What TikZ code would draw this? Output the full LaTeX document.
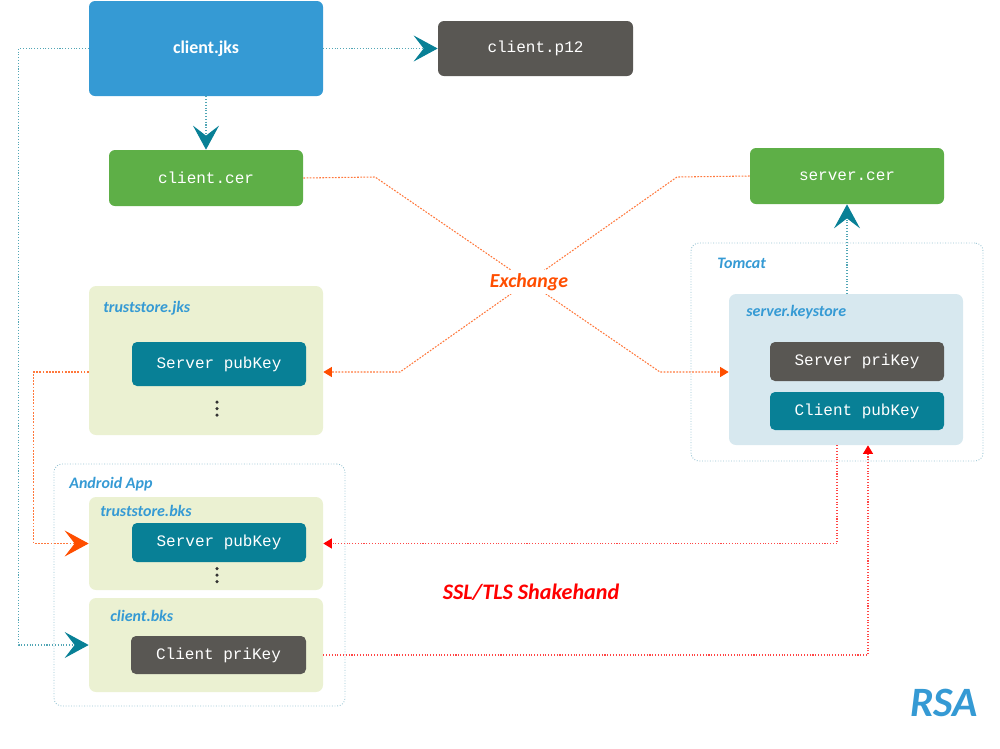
\documentclass[tikz,border=0pt]{standalone}
\usepackage{fontspec}
\setmainfont{Carlito}
\newfontfamily\monofont{Liberation Mono}
\usetikzlibrary{arrows.meta}
\definecolor{jksblue}{RGB}{53,154,212}
\definecolor{keygray}{RGB}{89,87,83}
\definecolor{keyteal}{RGB}{8,128,150}
\definecolor{cergreen}{RGB}{94,175,71}
\definecolor{storegreen}{RGB}{235,241,210}
\definecolor{storeblue}{RGB}{215,232,239}
\definecolor{framecol}{RGB}{150,195,210}
\definecolor{xorange}{RGB}{255,120,60}
\definecolor{xtext}{RGB}{255,78,0}
\definecolor{sslred}{RGB}{255,70,70}
\begin{document}
\begin{tikzpicture}[x=0.02cm,y=-0.02cm,
	filebox/.style={rounded corners=0.12cm,inner sep=0pt,text=white,font=\monofont\fontsize{9.1}{11}\selectfont},
	keybox/.style={filebox,rounded corners=0.1cm},
	store/.style={rounded corners=0.14cm,inner sep=0pt},
	frame/.style={draw=framecol,densely dotted,line width=0.5pt,rounded corners=0.16cm,inner sep=0pt},
	tag/.style={anchor=west,inner sep=0pt,text=jksblue,font=\fontsize{9.1}{11}\selectfont\bfseries\itshape},
	dot/.style={circle,fill=black!80,inner sep=0pt,minimum size=0.07cm},
	tealline/.style={draw=keyteal!70,densely dotted,line width=0.6pt},
	orline/.style={draw=xorange,dash pattern=on 1pt off 0.8pt,line width=0.6pt},
	redline/.style={draw=sslred,densely dotted,line width=0.6pt},
	bigtip/.tip={Stealth[length=0.48cm,width=0.52cm,inset=0.2cm]},
	smalltip/.tip={Triangle[length=0.17cm,width=0.2cm]}]
\useasboundingbox (0,0) rectangle (1000,748);

% top row
\node[filebox,fill=jksblue,minimum width=234*0.02cm,minimum height=95*0.02cm,font=\fontsize{10.2}{12}\selectfont\bfseries] (jks) at (206,48.5) {client.jks};
\node[filebox,fill=keygray,minimum width=195*0.02cm,minimum height=55*0.02cm] (p12) at (535.5,48.5) {client.p12};
\node[filebox,fill=cergreen,minimum width=194*0.02cm,minimum height=56*0.02cm] (ccer) at (206,178) {client.cer};
\node[filebox,fill=cergreen,minimum width=194*0.02cm,minimum height=56*0.02cm] (scer) at (847,176) {server.cer};

% tomcat
\node[frame,minimum width=292*0.02cm,minimum height=218*0.02cm] (tomcat) at (837,352) {};
\node[tag] at (717,263) {Tomcat};
\node[store,fill=storeblue,minimum width=234*0.02cm,minimum height=151*0.02cm] (ks) at (846,369.5) {};
\node[tag] at (746,312) {server.keystore};
\node[keybox,fill=keygray,minimum width=174*0.02cm,minimum height=39*0.02cm] (spri) at (857,361.5) {Server priKey};
\node[keybox,fill=keyteal,minimum width=174*0.02cm,minimum height=38*0.02cm] (cpub) at (857,411) {Client pubKey};

% truststore.jks
\node[store,fill=storegreen,minimum width=234*0.02cm,minimum height=149*0.02cm] (tjks) at (206,360.5) {};
\node[tag] at (103,308) {truststore.jks};
\node[keybox,fill=keyteal,minimum width=174*0.02cm,minimum height=44*0.02cm] (spub1) at (219,364) {Server pubKey};
\foreach \y in {402,408.5,415} \node[dot] at (217,\y) {};

% android app
\node[frame,minimum width=291*0.02cm,minimum height=242*0.02cm] (app) at (199.5,585) {};
\node[tag] at (69,484) {Android App};
\node[store,fill=storegreen,minimum width=234*0.02cm,minimum height=93*0.02cm] (tbks) at (206,543.5) {};
\node[tag] at (100,511) {truststore.bks};
\node[keybox,fill=keyteal,minimum width=174*0.02cm,minimum height=39*0.02cm] (spub2) at (219,542.5) {Server pubKey};
\foreach \y in {568.5,575,581.5} \node[dot] at (217,\y) {};
\node[store,fill=storegreen,minimum width=234*0.02cm,minimum height=94*0.02cm] (cbks) at (206,645) {};
\node[tag] at (110,616) {client.bks};
\node[keybox,fill=keygray,minimum width=175*0.02cm,minimum height=38*0.02cm] (cpri) at (218.5,655) {Client priKey};

% export
\draw[tealline,-{bigtip[fill=keyteal,color=keyteal]}] (jks.east) -- (p12.west);
\draw[tealline,-{bigtip[fill=keyteal,color=keyteal]}] (jks.south) -- (ccer.north);
\draw[tealline,-{bigtip[fill=keyteal,color=keyteal]}] (ks.north -| scer.south) -- (scer.south);
\draw[tealline,-{bigtip[fill=keyteal,color=keyteal]}] (jks.west) -- ++(-70,0) |- (cbks.west);

% exchange
\coordinate (xa) at (375,177);
\coordinate (xb) at (660,372);
\coordinate (xc) at (677,177);
\coordinate (xd) at (400,372);
\draw[orline,-{smalltip[color=xtext]}] (ccer.east) -- (xa) -- (xb) -- (ks.west |- xb);
\draw[orline,-{smalltip[color=xtext]}] (scer.west) -- (xc) -- (xd) -- (tjks.east |- xd);
\node[fill=white,inner sep=2pt,text=xtext,font=\fontsize{11.3}{13}\selectfont\bfseries\itshape] (xlabel) at (529,282) {Exchange};
\draw[orline,-{bigtip[color=xtext]}] (tjks.west |- xd) -- ++(-55,0) |- (tbks.west);

% handshake
\draw[redline,-{smalltip[color=red]}] ([xshift=-0.18cm]ks.south) |- (tbks.east);
\draw[redline,-{smalltip[color=red]}] (cbks.east |- cpri) -| ([xshift=0.44cm]ks.south);
\node[text=red,font=\fontsize{12.6}{14}\selectfont\bfseries\itshape] (ssl) at (531,592) {SSL/TLS Shakehand};

\node[text=jksblue,font=\fontsize{23.8}{26}\selectfont\bfseries\itshape] (rsa) at (944,703) {RSA};
\end{tikzpicture}
\end{document}
